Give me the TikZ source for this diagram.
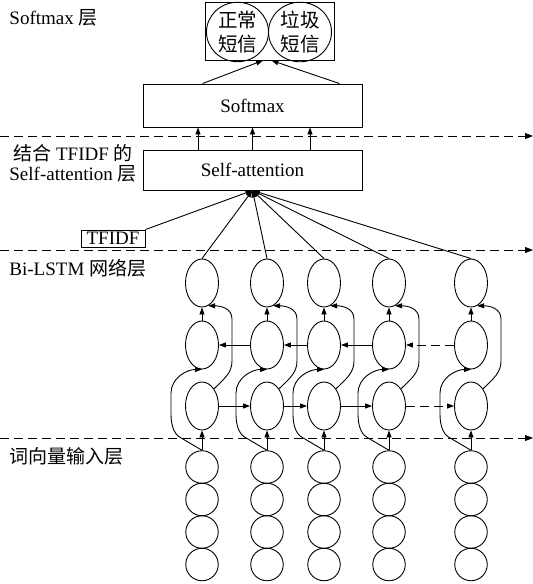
\documentclass[tikz,border=0pt]{standalone}
\usepackage{fontspec}
\setmainfont{Liberation Serif}
\newfontfamily\cjk{Noto Sans CJK SC}
\usetikzlibrary{shapes.geometric,arrows.meta,calc}
\begin{document}
\begin{tikzpicture}[x=1pt,y=-1pt, line width=0.9pt,
  font=\fontsize{19}{21}\selectfont,
  arr/.style={-{Triangle[length=7pt,width=5pt]}},
  cell/.style={draw, ellipse, minimum width=33pt, minimum height=48pt, inner sep=0pt},
  vec/.style={draw, circle, minimum size=32.5pt, inner sep=0pt},
  layer/.style={draw, dash pattern=on 9pt off 5pt, -{Triangle[length=8pt,width=6pt]}},
  lbl/.style={anchor=west, inner sep=0pt},
  box/.style={draw, inner sep=0pt},
  cls/.style={draw, ellipse, inner sep=0pt, minimum width=62pt, minimum height=53pt, align=center, font=\fontsize{19.5}{24}\selectfont\cjk}]
\useasboundingbox (0,0) rectangle (533,584);

% layer separators
\coordinate (d1s) at (0,136);   \coordinate (d1e) at (533,136);
\coordinate (d2s) at (0,250);   \coordinate (d2e) at (533,250);
\coordinate (d3s) at (0,438);   \coordinate (d3e) at (533,438);
\draw[layer] (d1s) -- (d1e);
\draw[layer] (d2s) -- (d2e);
\draw[layer] (d3s) -- (d3e);

% labels
\node[lbl] (l1) at (9,18) {Softmax {\cjk 层}};
\node[align=center, inner sep=0pt, font=\fontsize{19}{20}\selectfont] (l2) at (73,163) {{\cjk 结合} TFIDF {\cjk 的}\\Self-attention {\cjk 层}};
\node[lbl] (l3) at (9,268) {Bi-LSTM {\cjk 网络层}};
\node[lbl] (l4) at (9,456) {\cjk 词向量输入层};

% top boxes
\node[box, minimum width=129pt, minimum height=58pt] (out) at (269.5,31) {};
\node[cls] (c1) at (237.5,32) {正常\\短信};
\node[cls, minimum width=63pt] (c2) at (300,32) {垃圾\\短信};
\node[box, minimum width=219pt, minimum height=43pt] (sm) at (252.5,105.5) {Softmax};
\node[box, minimum width=219pt, minimum height=40pt] (att) at (252.5,170) {Self-attention};
\node[box, minimum width=64pt, minimum height=17pt] (tf) at (113,238.5) {TFIDF};

% arrows softmax -> output
\draw[arr] ($(sm.north west)+(60,0)$) -- ($(out.south)+(-6.5,0)$);
\draw[arr] ($(sm.north west)+(197,0)$) -- ($(out.south)+(2,0)$);
% attention -> softmax
\foreach \dx in {-54.5,0,57.5}
  \draw[arr] ($(att.north)+(\dx,0)$) -- ($(sm.south)+(\dx,0)$);
% TFIDF -> attention
\draw[arr] (tf.north east) -- (att.south);

% columns
\foreach \i/\x in {1/202,2/267,3/324,4/389,5/471}{
  \node[cell] (o\i) at (\x,283) {};
  \node[cell] (b\i) at (\x,345) {};
  \node[cell] (f\i) at (\x,406) {};
  \node[vec] (v\i a) at (\x,467) {};
  \node[vec] (v\i b) at (\x,499.5) {};
  \node[vec] (v\i c) at (\x,532) {};
  \node[vec] (v\i d) at (\x,564.5) {};
  \draw[arr] (o\i.north) -- (att.south);
  \draw[arr] (b\i.north) -- (o\i.south);
  \draw[arr] (v\i a.north) -- (f\i.south);
  % input -> backward cell (left curve)
  \draw[arr] (v\i a.north) -- ($(v\i a.north)+(-22,-13)$)
     .. controls +(-7,-4) and +(0,9) .. ($(f\i.center)+(-31,8)$)
     -- ($(b\i.center)+(-31,48)$)
     .. controls +(0,-15) and +(-15,0) .. (b\i.south);
  % forward cell -> output (right curve)
  \draw[arr] (f\i.55) .. controls +(10,-10) and +(0,12) .. ($(f\i.center)+(30,-45)$)
     -- ($(o\i.center)+(30,36)$)
     .. controls +(0,-11) and +(12,0) .. (o\i.-75);
}
% recurrent connections
\foreach \i/\j in {1/2,2/3,3/4}{
  \draw[arr] (f\i.east) -- (f\j.west);
  \draw[arr] (b\j.west) -- (b\i.east);
}
\draw[arr, dash pattern=on 9pt off 5pt] (f4.east) -- (f5.west);
\draw[arr, dash pattern=on 9pt off 5pt] (b5.west) -- (b4.east);
\end{tikzpicture}
\end{document}
